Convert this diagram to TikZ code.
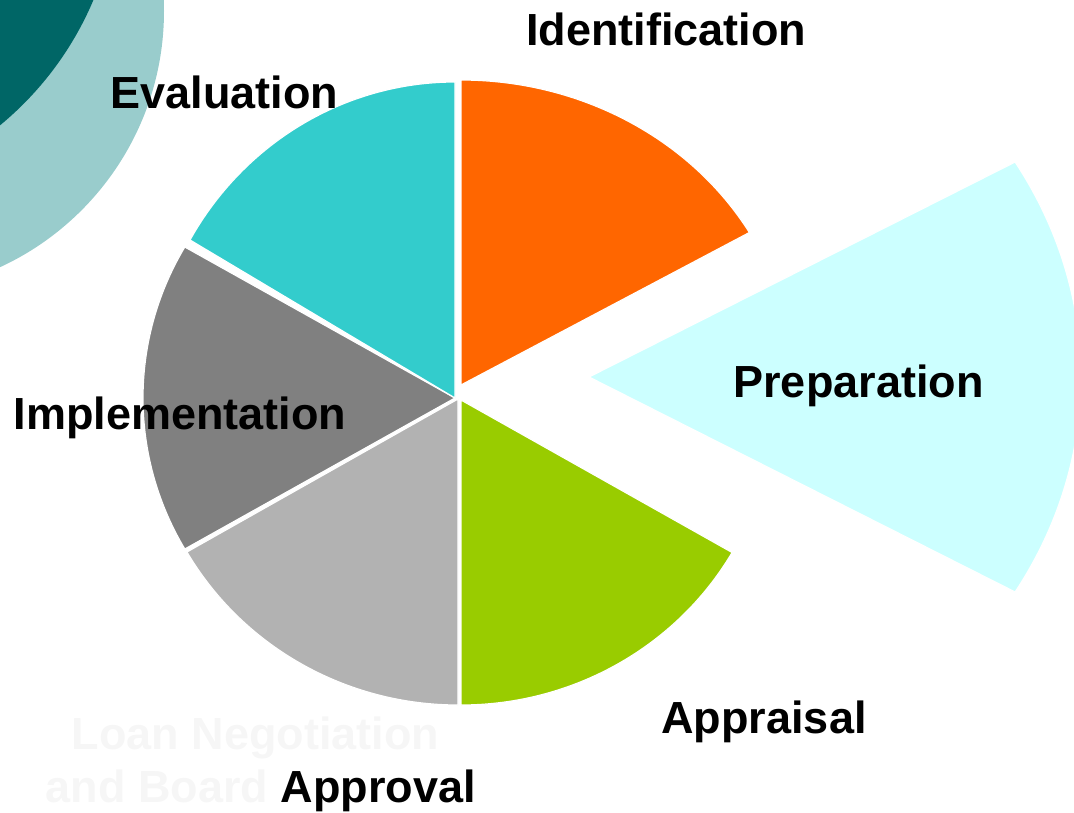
\documentclass[tikz,border=0pt]{standalone}
\usepackage{fontspec}
\setmainfont{Liberation Sans}
\definecolor{darkteal}{HTML}{006666}
\definecolor{ringteal}{HTML}{99CCCC}
\definecolor{evalteal}{HTML}{33CCCC}
\definecolor{identorange}{HTML}{FF6600}
\definecolor{prepcyan}{HTML}{CCFFFF}
\definecolor{apprgreen}{HTML}{99CC00}
\definecolor{implgray}{HTML}{808080}
\definecolor{approvgray}{HTML}{B2B2B2}
\definecolor{faint}{HTML}{F6F6F6}
\begin{document}
\begin{tikzpicture}[x=1pt,y=-1pt,
  slice/.style={draw=white, line width=1.2pt, line join=round},
  lbl/.style={anchor=base, inner sep=0pt, font=\fontsize{45}{54}\selectfont\bfseries}]
\useasboundingbox (0,0) rectangle (1074,812);
\begin{scope}
\clip (0,0) rectangle (1074,812);
% decorative circles
\fill[ringteal] (-118,11) circle[radius=282];
\fill[darkteal] (-208,-127) circle[radius=327];
% pie slices
\filldraw[slice, fill=approvgray] (458,399) -- ++(0,306) arc[start angle=90, end angle=150, x radius=313, y radius=306] -- cycle;
\filldraw[slice, fill=implgray] (455,398) -- ++(-270.2,-151) arc[start angle=210, end angle=150, x radius=312, y radius=302] -- cycle;
\filldraw[slice, fill=evalteal] (455,398) -- ++(-265,-158) arc[start angle=210, end angle=270, x radius=306, y radius=316] -- cycle;
\filldraw[slice, fill=identorange] (461,385) -- ++(0,-305) arc[start angle=-90, end angle=-30, x radius=333, y radius=305] -- cycle;
\filldraw[slice, fill=apprgreen] (461,400) -- ++(271.1,152.5) arc[start angle=30, end angle=90, x radius=313, y radius=305] -- cycle;
\filldraw[slice, fill=prepcyan] (589,377) -- ++(426.1,-215) arc[start angle=-30, end angle=30, x radius=492, y radius=430] -- cycle;
\end{scope}
% labels
\node[lbl] (ident) at (666,45) {Identification};
\node[lbl] (eval) at (224.5,108) {Evaluation};
\node[lbl] (prep) at (858.5,397) {Preparation};
\node[lbl] (impl) at (180,429) {Implementation};
\node[lbl] (appr) at (764,733) {Appraisal};
\node[lbl, text=faint] (loanA) at (255.5,749) {Loan Negotiation};
\node[lbl, text=faint] (loanB) at (261,802) {and Board \textcolor{black}{Approval}};
\end{tikzpicture}
\end{document}
